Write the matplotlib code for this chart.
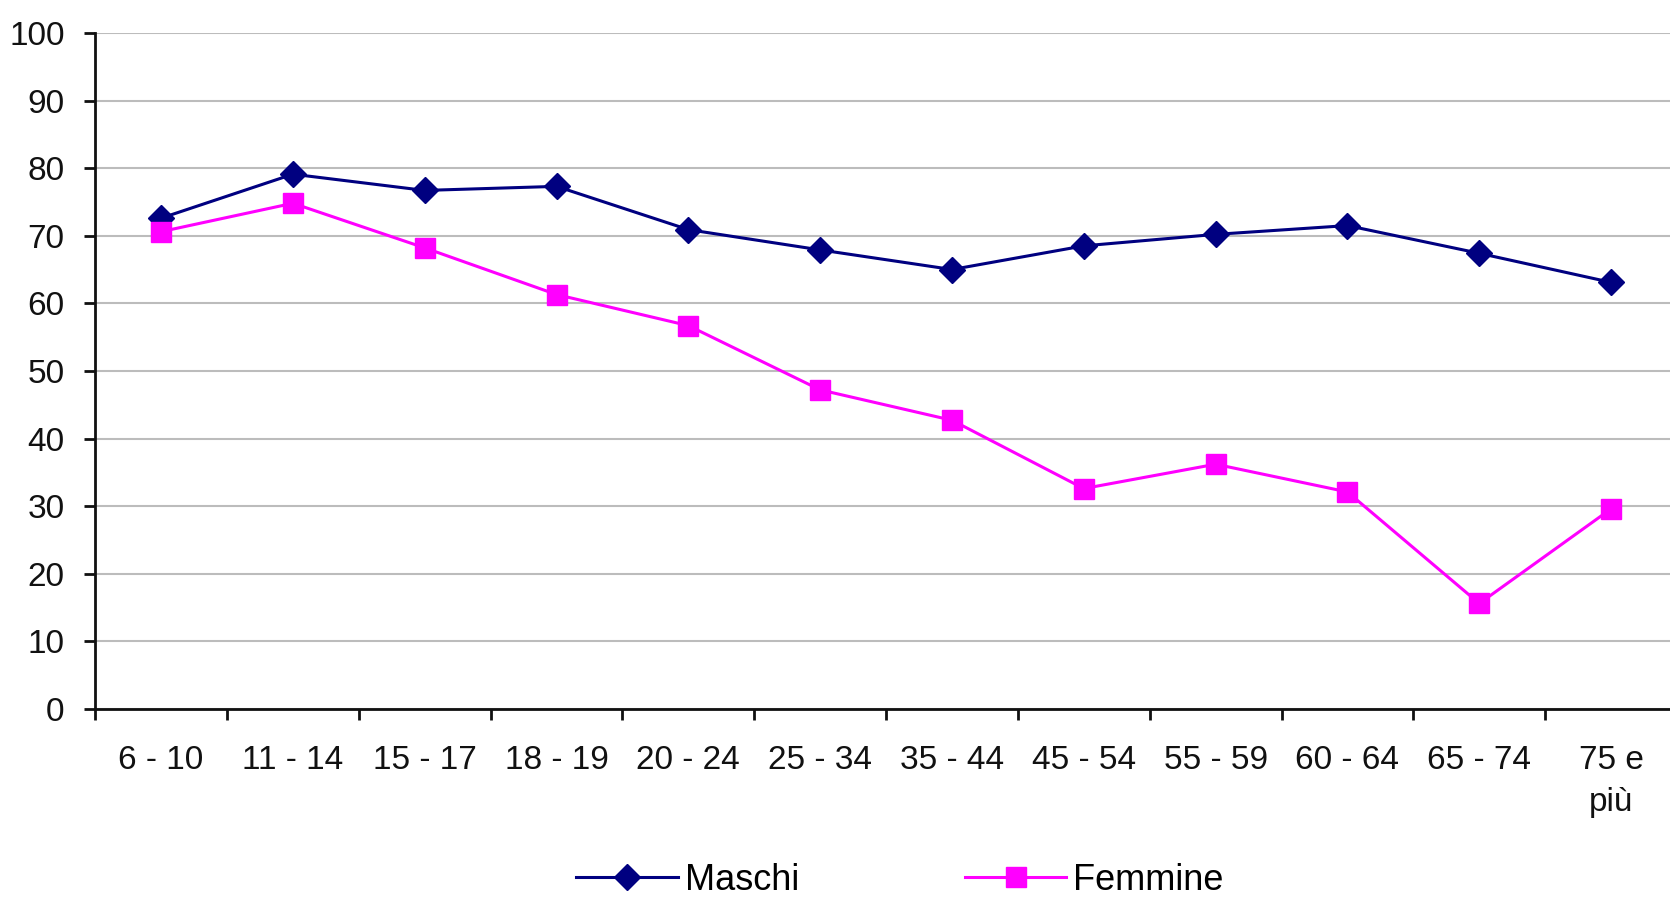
import numpy as np
import matplotlib.pyplot as plt
from matplotlib.ticker import FixedLocator

plt.rcParams['font.family'] = ['Liberation Sans', 'DejaVu Sans']

classi = ['6 - 10', '11 - 14', '15 - 17', '18 - 19', '20 - 24', '25 - 34',
          '35 - 44', '45 - 54', '55 - 59', '60 - 64', '65 - 74', '75 e\npiù']
maschi = [72.6, 79.1, 76.7, 77.3, 70.9, 67.9, 65.0, 68.5, 70.2, 71.5, 67.4, 63.1]
femmine = [70.6, 74.8, 68.2, 61.3, 56.7, 47.2, 42.7, 32.6, 36.2, 32.1, 15.6, 29.6]
y_ticks = list(range(0, 101, 10))

fig = plt.figure(figsize=(16.7, 8.99), dpi=100)
ax = fig.add_axes([0.057, 0.2114, 0.943, 0.752])

x = np.arange(len(classi))
ax.plot(x, maschi, color='#000080', lw=2.2, marker='D', ms=13, label='Maschi')
ax.plot(x, femmine, color='#ff00ff', lw=2.2, marker='s', ms=15, label='Femmine')

ax.set_xlim(-0.5, 11.447)
ax.set_ylim(0, 100)
ax.set_yticks(y_ticks)
ax.set_xticks(x)
ax.set_xticklabels(classi, linespacing=1.45)
ax.xaxis.set_minor_locator(FixedLocator(np.arange(-0.5, 11.5, 1)))

ax.grid(axis='y', color='#bcbcbc', lw=1.5)
ax.set_axisbelow(True)
for s in ['top', 'right']:
    ax.spines[s].set_visible(False)
for s in ['left', 'bottom']:
    ax.spines[s].set_linewidth(2)
    ax.spines[s].set_color('#111111')

ax.tick_params(axis='y', length=8, width=2, pad=14, labelsize=24, colors='#111111')
ax.tick_params(axis='x', which='major', length=0, pad=26, labelsize=24, colors='#111111')
ax.tick_params(axis='x', which='minor', length=8, width=2, color='#111111')

fig.legend(loc='center', bbox_to_anchor=(0.539, 0.021), ncol=2, frameon=False,
           fontsize=26, handlelength=2.8, handletextpad=0.2, columnspacing=4.6)

fig.savefig('out.png', dpi=100)
